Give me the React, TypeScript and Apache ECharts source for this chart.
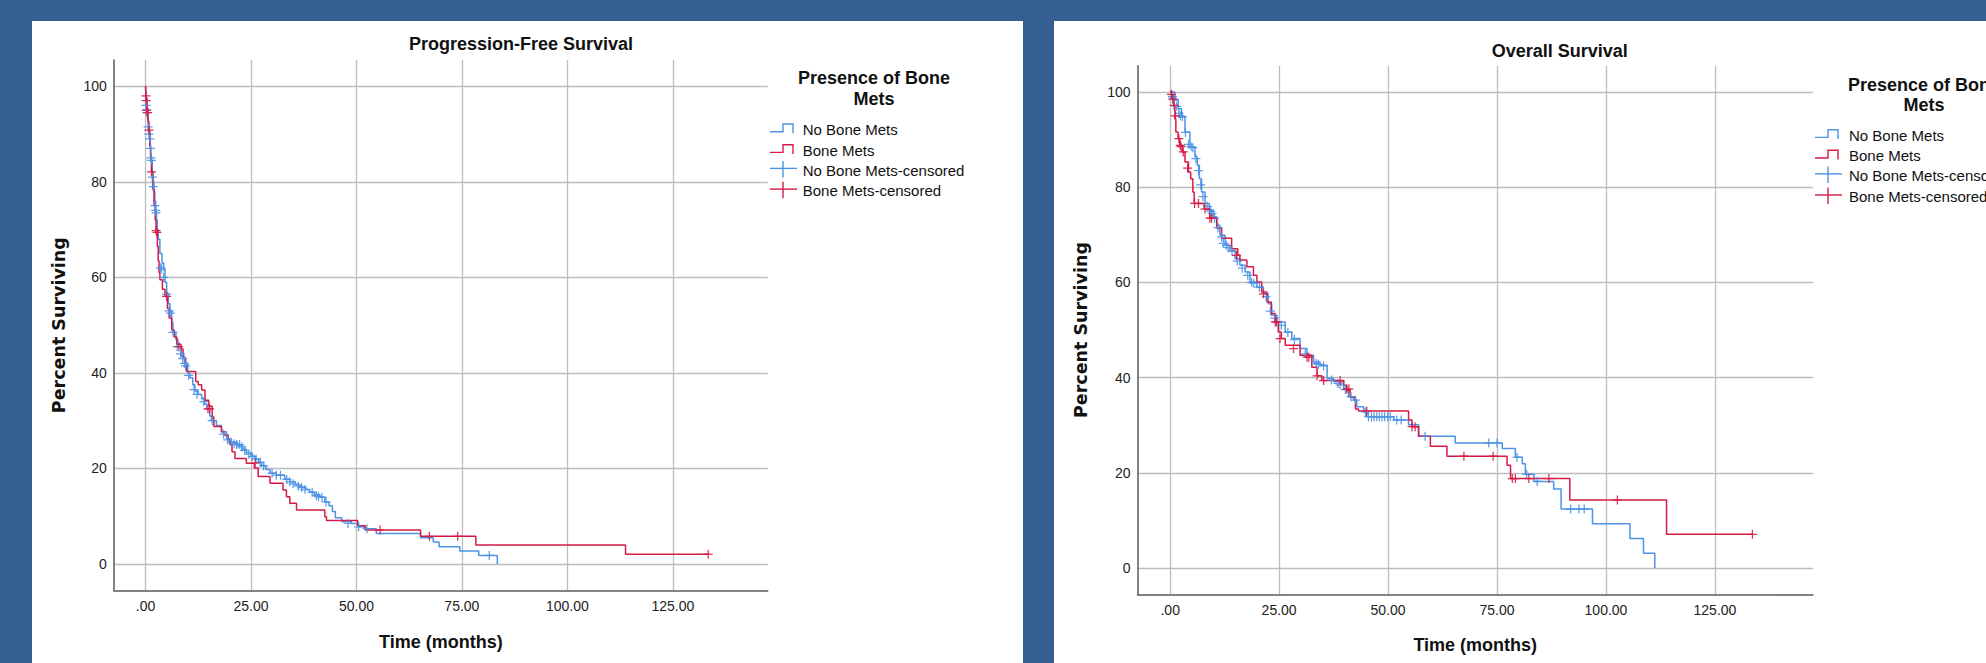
import React, { useEffect, useRef } from 'react';
import * as echarts from 'echarts';

const xTicks = [0, 25, 50, 75, 100, 125];
const yTicks = [0, 20, 40, 60, 80, 100];
const legendTitle = ['Presence of Bone', 'Mets'];
const legendLabels = ['No Bone Mets', 'Bone Mets', 'No Bone Mets-censored', 'Bone Mets-censored'];
const chartTitles = ['Progression-Free Survival', 'Overall Survival'];

// Progression-free survival: steps [time, percent surviving]
const pfsNoBone: number[][] = [
  [0, 100], [0.1, 97.5], [0.25, 95.5], [0.5, 93], [0.7, 91.5], [0.9, 90], [1.1, 88], [1.2, 86], [1.35, 84.5],
  [1.6, 82], [1.8, 80], [2.0, 78], [2.2, 76], [2.4, 74], [2.6, 72], [2.8, 70], [3.0, 68], [3.4, 65], [3.9, 63],
  [4.3, 61.5], [4.6, 59], [5.0, 56.7], [5.4, 54.5], [5.8, 53], [6.2, 50.5], [6.5, 48.5], [7.2, 47], [7.7, 45.5],
  [8.5, 43.5], [9.3, 42], [10.0, 40], [10.5, 39], [11.2, 37.5], [11.7, 36.2], [12.5, 35.5], [13.3, 34.6],
  [14.0, 33.5], [14.5, 32.5], [15.2, 31], [15.6, 30], [16.8, 29], [18.0, 27.7], [19.2, 26.2], [20.0, 25.5],
  [21.8, 24.8], [23.0, 24], [23.9, 23.3], [25.0, 22.6], [25.9, 22], [26.8, 21.3], [27.5, 20.6], [28.5, 19.8],
  [29.5, 19], [31.0, 18.6], [33.0, 17.8], [34.2, 17.2], [35.5, 16.6], [36.6, 16.1], [38.0, 15.6], [38.9, 15.1],
  [40.0, 14.5], [41.3, 14], [42.5, 13], [43.5, 12.2], [44.3, 11], [45.0, 9.7], [46.5, 8.9], [48.8, 8.5],
  [50.5, 7.8], [52.0, 7.4], [54.7, 6.4], [65.2, 5.5], [68.2, 4.6], [69.6, 3.6], [74.5, 2.7], [79.0, 1.8], [83.4, 0]
];
const pfsBone: number[][] = [
  [0, 100], [0.15, 97.5], [0.35, 95], [0.6, 92.5], [0.8, 90.8], [1.0, 87.5], [1.2, 85], [1.4, 82.1], [1.7, 78.5],
  [2.0, 75], [2.3, 72], [2.5, 69.6], [2.8, 66.5], [3.0, 63.5], [3.2, 61], [3.4, 59.5], [4.0, 57.5], [4.6, 56],
  [5.2, 53.5], [5.6, 51.5], [6.2, 49], [6.8, 47.5], [7.4, 46], [8.4, 45], [8.9, 43], [9.5, 41.5], [9.7, 40.3],
  [11.9, 38.2], [12.5, 37.5], [13.3, 36.4], [14.1, 34.3], [15.0, 33], [15.8, 30.8], [16.2, 28.8], [18.0, 27.7],
  [18.6, 27], [19.6, 26], [20.0, 25], [20.5, 23.5], [21.2, 22.1], [23.9, 21.1], [25.8, 20.1], [26.7, 18.3],
  [29.5, 16.9], [32.6, 15.5], [33.4, 14.1], [34.2, 12.7], [35.8, 11.3], [42.5, 9.9], [42.9, 9.1], [50.3, 8.0],
  [52.1, 7.1], [65.2, 5.8], [78.3, 4.0], [113.8, 2.05], [133.4, 2.05]
];
const pfsNoBoneCensored: number[][] = [
  [0.1, 96], [0.2, 95], [0.3, 94.5], [0.6, 91.5], [0.8, 90], [1.0, 89], [1.2, 87], [1.3, 85], [1.4, 84.5],
  [1.6, 81], [1.8, 79], [2.2, 75], [2.4, 74], [2.5, 73.5], [3.6, 62], [3.8, 61.8], [4.3, 60], [5.0, 56.5],
  [5.6, 53], [5.9, 52.5], [6.5, 48.5], [7.5, 45.5], [8.3, 44], [8.8, 43], [9.2, 42], [9.5, 41.5], [10.2, 39.5],
  [11.5, 36.5], [12.2, 35.5], [13.8, 34], [15.8, 30], [18.5, 27.2], [19.5, 26], [20.3, 25.5], [21.0, 25.2],
  [21.6, 25], [22.3, 25], [22.8, 24.5], [23.5, 23.8], [24.5, 23], [25.3, 22.5], [26.2, 22], [27.2, 21.3],
  [28.0, 20.5], [30.0, 19], [31.0, 18.6], [32.0, 18.6], [33.5, 17.7], [34.2, 17.2], [35.0, 16.8], [36.2, 16.3],
  [37.0, 16], [37.8, 15.6], [39.5, 15], [40.5, 14.3], [41.0, 14.1], [41.8, 14], [42.8, 13], [48.0, 8.5],
  [50.5, 7.8], [52.5, 7.4], [81.5, 1.8]
];
const pfsBoneCensored: number[][] = [
  [0.1, 98], [0.15, 97], [0.3, 95], [0.5, 94.5], [0.8, 90.8], [1.4, 82.1], [2.5, 69.8], [2.7, 69.4],
  [5.0, 56], [7.9, 45.5], [14.8, 32.5], [15.2, 32.5], [26.0, 21.1], [55.6, 7.1], [67.3, 5.8], [74.0, 5.8],
  [133.4, 2.05]
];

// Overall survival
const osNoBone: number[][] = [
  [0, 100], [1.08, 98.3], [1.85, 96.5], [2.6, 94.8], [3.4, 91.6], [4.53, 88.5], [5.68, 86.4], [6.2, 84.6],
  [6.7, 81.8], [7.2, 79], [8.0, 76.6], [9.0, 75.2], [9.9, 73.8], [10.7, 72], [11.4, 69.9], [12.6, 67.8],
  [13.7, 66.7], [14.9, 65], [16.0, 63.6], [17.2, 62.2], [18.3, 60.1], [19.9, 59], [21.4, 57.6], [22.5, 55.5],
  [23.3, 53.1], [24.5, 51.7], [26.4, 49.6], [27.9, 48.2], [29.8, 46.1], [31.4, 44.7], [32.9, 43.3], [34.4, 42.6],
  [36.0, 39.9], [37.5, 39.2], [39.8, 37.7], [40.9, 36], [42.1, 35.3], [42.8, 33.9], [44.4, 32.8], [45.1, 31.8],
  [51.3, 31.1], [54.7, 30.1], [57.0, 27.7], [65.4, 26.3], [76.2, 25.1], [79.2, 23.3], [80.8, 21.9], [81.5, 19.7],
  [83.5, 18.2], [88.0, 16.6], [89.7, 12.4], [96.9, 9.3], [105.5, 6.2], [108.6, 3.1], [111.2, 0]
];
const osBone: number[][] = [
  [0, 100], [0.4, 99], [0.8, 97.2], [1.08, 94.4], [1.3, 91.6], [1.8, 90.2], [2.2, 88.8], [2.8, 87.4],
  [3.4, 85.3], [4.2, 83.2], [4.7, 81.8], [5.2, 79], [5.5, 76.6], [7.8, 75.4], [9.1, 73.5], [10.7, 71.4],
  [11.8, 69.3], [14.1, 67.1], [15.5, 65.7], [16.0, 64.7], [17.6, 63.3], [19.1, 61.5], [19.9, 60.1], [21.0, 58],
  [22.2, 55.9], [23.2, 53.5], [24.1, 51.7], [24.8, 49.6], [25.5, 48.2], [26.4, 46.8], [29.8, 44.7], [32.5, 42.2],
  [33.7, 40.4], [34.8, 39.4], [39.8, 38.4], [40.5, 37.3], [41.3, 35.9], [42.5, 33.4], [43.2, 33.0], [54.7, 31.1],
  [55.5, 29.7], [57.0, 27.7], [59.7, 25.6], [63.5, 23.5], [77.3, 21.6], [78.1, 18.8], [91.7, 14.3],
  [113.9, 7.1], [133.6, 7.1]
];
const osNoBoneCensored: number[][] = [
  [0.5, 99], [0.8, 98.5], [1.5, 97], [2.0, 95.5], [2.3, 95], [2.8, 94.8], [3.5, 91.5], [4.2, 89], [4.8, 88.5],
  [5.2, 88.3], [5.9, 86], [6.5, 83.5], [7.0, 80.5], [7.5, 78], [8.5, 76], [9.3, 75], [9.6, 74.5], [10.2, 73.5],
  [11.0, 71.5], [11.8, 69.5], [12.2, 68.2], [12.9, 67.8], [13.3, 67.3], [14.2, 66.5], [15.4, 64.5], [16.5, 63],
  [17.8, 61.5], [18.7, 60], [19.2, 59.8], [20.5, 59], [22.0, 57], [23.0, 54], [24.0, 52.5], [25.5, 51],
  [27.0, 49.5], [28.5, 48], [31.0, 45], [33.5, 43], [34.0, 42.8], [35.2, 42.5], [37.0, 39.5], [38.5, 38.8],
  [39.0, 38.5], [40.2, 37.5], [41.5, 36], [42.5, 35.3], [44.8, 32.8], [45.5, 31.8], [46.2, 31.8], [46.8, 31.8],
  [47.4, 31.8], [48.0, 31.8], [48.6, 31.8], [49.2, 31.8], [49.9, 31.8], [50.5, 31.8], [52.0, 31.1], [53.0, 31.1],
  [58.5, 27.7], [73.1, 26.3], [75.0, 26.3], [79.6, 23.3], [81.8, 19.7], [84.2, 18.2], [91.9, 12.4], [93.8, 12.4],
  [95.0, 12.4]
];
const osBoneCensored: number[][] = [
  [0.3, 99.5], [0.6, 98.5], [0.9, 97.2], [1.2, 95], [2.0, 90.2], [2.3, 88.8], [2.5, 88.5], [3.0, 87.4],
  [4.0, 84], [5.6, 76.6], [6.5, 76.6], [8.0, 75.4], [9.1, 73.5], [9.5, 73.5], [15.2, 65.7], [21.4, 57.6],
  [24.1, 51.7], [24.4, 51.7], [25.2, 48.2], [28.3, 46.1], [31.4, 44.3], [31.8, 44.3], [33.7, 40.4], [35.2, 39.4],
  [39.0, 39.4], [40.5, 37.6], [41.0, 37.6], [45.1, 33.0], [55.5, 29.7], [56.2, 29.7], [67.4, 23.5], [74.1, 23.5],
  [78.5, 18.8], [79.2, 18.8], [82.3, 18.8], [86.9, 18.8], [102.6, 14.3], [133.6, 7.1]
];

const BLUE = '#4d93e6';
const RED = '#d61a45';
const CROSS = 'path://M0,4.3H10V5.7H0Z M4.3,0H5.7V10H4.3Z';
const SANS = '"Liberation Sans", Arial, sans-serif';

const panels = [
  { grid: { left: 113.9, top: 60, width: 653.8, height: 530.3 }, title: [521, 44.4], yNameGap: 46, xNameGap: 43,
    legend: { ix: 770, tx: 802.7, tcx: 874, ty: [78, 99], rows: [129.3, 150, 170, 190.7] },
    lines: [pfsNoBone, pfsBone], cens: [pfsNoBoneCensored, pfsBoneCensored] },
  { grid: { left: 1137.5, top: 65.8, width: 675.5, height: 528.5 }, title: [1559.7, 50.7], yNameGap: 48, xNameGap: 42,
    legend: { ix: 1815, tx: 1849, tcx: 1924, ty: [84.6, 105], rows: [135, 155.6, 175.5, 196.6] },
    lines: [osNoBone, osBone], cens: [osNoBoneCensored, osBoneCensored] },
];

function buildLegend(l: any): any[] {
  const els: any[] = [];
  legendTitle.forEach((t, i) => {
    els.push({ type: 'text', x: l.tcx, y: l.ty[i], style: { text: t, fill: '#111', fontSize: 18, fontWeight: 'bold',
      fontFamily: SANS, align: 'center', verticalAlign: 'middle' } });
  });
  const colors = [BLUE, RED, BLUE, RED];
  legendLabels.forEach((t, i) => {
    const y = l.rows[i];
    const x0 = l.ix;
    if (i < 2) {
      els.push({ type: 'polyline', shape: { points: [[x0, y + 2.4], [x0 + 13, y + 2.4], [x0 + 13, y - 5.3], [x0 + 23, y - 5.3], [x0 + 23, y + 4]] },
        style: { stroke: colors[i], lineWidth: 1.4, fill: null } });
    } else {
      els.push({ type: 'line', shape: { x1: x0, y1: y - 1.6, x2: x0 + 27, y2: y - 1.6 }, style: { stroke: colors[i], lineWidth: 1.4 } });
      els.push({ type: 'line', shape: { x1: x0 + 13, y1: y - 9, x2: x0 + 13, y2: y + 7.5 }, style: { stroke: colors[i], lineWidth: 1.4 } });
    }
    els.push({ type: 'text', x: l.tx, y, style: { text: t, fill: '#111', fontSize: 15,
      fontFamily: SANS, align: 'left', verticalAlign: 'middle' } });
  });
  return els;
}

export default function App() {
  const ref = useRef<HTMLDivElement>(null);
  useEffect(() => {
    document.body.style.margin = '0';
    if (!ref.current) return;
    const chart = echarts.init(ref.current, null, { renderer: 'svg' });
    const xAxis: any[] = [];
    const yAxis: any[] = [];
    const grid: any[] = [];
    const series: any[] = [];
    let graphic: any[] = [
      { type: 'rect', z: -10, shape: { x: 32, y: 21, width: 991, height: 650 }, style: { fill: '#ffffff' } },
      { type: 'rect', z: -10, shape: { x: 1054, y: 21, width: 940, height: 650 }, style: { fill: '#ffffff' } },
    ];
    panels.forEach((p, i) => {
      grid.push({ ...p.grid, containLabel: false, outerBoundsMode: 'none' });
      graphic.push({ type: 'text', x: p.title[0], y: p.title[1], style: { text: chartTitles[i], fill: '#111', fontSize: 18,
        fontWeight: 'bold', fontFamily: SANS, align: 'center', verticalAlign: 'middle' } });
      xAxis.push({
        type: 'value', gridIndex: i, min: -7.5, max: 147.5,
        name: 'Time (months)', nameLocation: 'middle', nameGap: p.xNameGap,
        nameTextStyle: { fontSize: 18, fontWeight: 'bold', color: '#111', fontFamily: SANS },
        axisLine: { show: true, onZero: false, lineStyle: { color: '#5a5a5a', width: 1.5 } },
        axisTick: { show: false, customValues: xTicks },
        axisLabel: { customValues: xTicks, margin: 9, fontSize: 14, color: '#222', fontFamily: SANS,
          formatter: (v: number) => (v === 0 ? '.00' : v.toFixed(2)) },
        splitLine: { show: true, lineStyle: { color: '#bdbdbd', width: 1.3 } },
      });
      yAxis.push({
        type: 'value', gridIndex: i, min: -5.5, max: 105.5,
        name: 'Percent Surviving', nameLocation: 'middle', nameGap: p.yNameGap,
        nameTextStyle: { fontSize: 17.5, fontWeight: 'bold', color: '#111', fontFamily: '"DejaVu Sans", Verdana, sans-serif' },
        axisLine: { show: true, onZero: false, lineStyle: { color: '#5a5a5a', width: 1.5 } },
        axisTick: { show: false, customValues: yTicks },
        axisLabel: { customValues: yTicks, margin: 7, fontSize: 14, color: '#222', fontFamily: SANS },
        splitLine: { show: true, lineStyle: { color: '#bdbdbd', width: 1.3 } },
      });
      const colors = [BLUE, RED];
      p.lines.forEach((d, k) => {
        series.push({ type: 'line', name: legendLabels[k], xAxisIndex: i, yAxisIndex: i, data: d, step: 'end',
          symbol: 'none', lineStyle: { color: colors[k], width: 1.5 }, itemStyle: { color: colors[k] }, z: 3 + k, silent: true });
      });
      p.cens.forEach((d, k) => {
        series.push({ type: 'scatter', name: legendLabels[k + 2], xAxisIndex: i, yAxisIndex: i, data: d,
          symbol: CROSS, symbolSize: 9, itemStyle: { color: colors[k], opacity: 0.9 }, z: 5 + k, silent: true });
      });
      graphic = graphic.concat(buildLegend(p.legend));
    });
    chart.setOption({
      animation: false,
      backgroundColor: '#365f91',
      grid, xAxis, yAxis, series, graphic,
    });
    return () => chart.dispose();
  }, []);
  return <div ref={ref} style={{ position: 'absolute', left: 0, top: 0, width: 1986, height: 663 }} />;
}
